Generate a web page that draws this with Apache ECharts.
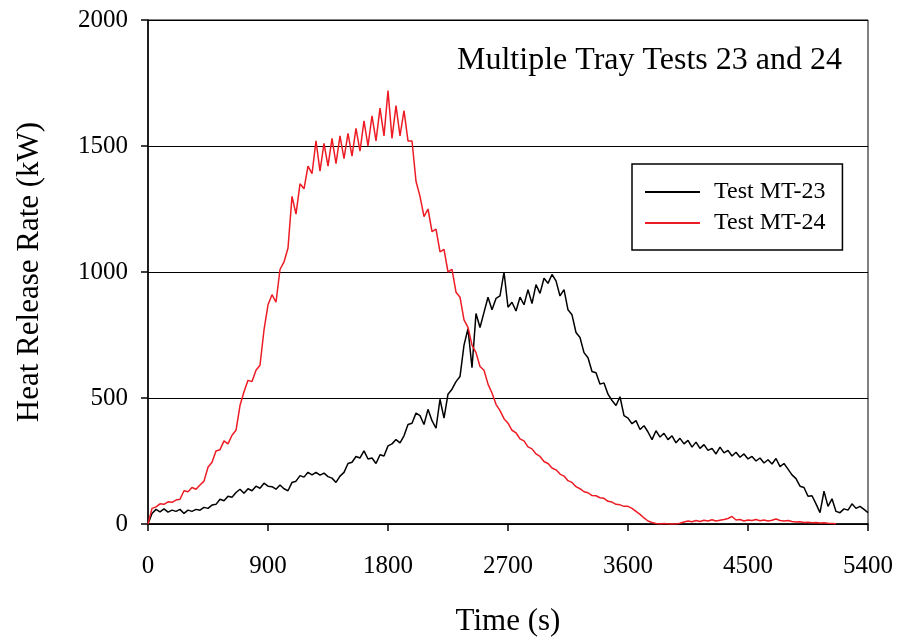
<!DOCTYPE html>
<html>
<head>
<meta charset="utf-8">
<script src="https://cdn.jsdelivr.net/npm/echarts@6/dist/echarts.min.js"></script>
<style>
html,body{margin:0;padding:0;background:#fff;}
#chart{width:904px;height:638px;}
</style>
</head>
<body>
<div id="chart"></div>
<script>
const TIME_STEP = 30;

// Test MT-23 heat release rate (kW), every 30 s from 0 to 5400 s
const mt23 = [
0,42,58,48,60,47,55,50,58,42,55,50,58,55,66,62,75,78,98,92,
110,106,125,138,122,140,132,150,142,162,150,148,138,155,140,132,165,170,192,186,
205,195,205,194,202,188,182,165,190,205,240,245,268,262,290,258,262,240,275,270,
310,318,335,322,350,395,400,440,430,395,455,410,380,495,420,515,535,565,585,710,
775,620,835,780,840,900,850,895,905,1000,860,880,845,900,870,930,875,950,915,975,
955,990,965,905,930,850,830,760,740,680,660,605,600,555,560,515,490,470,505,430,
420,398,410,375,390,365,335,370,345,360,335,350,322,340,318,332,305,325,300,315,
292,300,278,305,282,292,270,285,265,278,258,268,250,262,242,255,238,260,228,240,
218,195,180,150,145,110,112,80,45,130,70,100,50,45,60,55,80,62,70,58,
45
];

// Test MT-24 heat release rate (kW), every 30 s from 0 to 5160 s
const mt24 = [
0,62,68,80,78,88,86,95,98,132,128,145,138,155,170,225,245,290,295,330,
318,352,372,470,525,570,565,610,630,770,870,910,880,1010,1040,1095,1300,1230,1350,1330,
1420,1390,1520,1400,1510,1420,1530,1430,1540,1450,1550,1460,1570,1480,1600,1500,1620,1520,1650,1540,
1720,1530,1660,1540,1640,1520,1520,1360,1300,1220,1250,1160,1170,1080,1090,1000,1010,920,900,810,
780,710,680,625,610,555,520,475,450,418,400,372,362,338,330,306,298,278,268,248,
240,222,215,198,190,172,165,148,140,128,124,113,112,104,102,90,87,78,76,70,
70,62,50,38,24,12,6,2,0,2,0,1,0,3,8,12,9,14,10,15,
12,17,12,15,18,22,30,16,18,12,16,14,18,13,16,12,15,20,14,12,
14,10,8,9,6,7,5,6,4,5,3,2,1
];

const xTicks = {min: 0, max: 5400, interval: 900};
const yTicks = {min: 0, max: 2000, interval: 500};
const seriesNames = ['Test MT-23', 'Test MT-24'];
const titleText = 'Multiple Tray Tests 23 and 24';

function toPairs(arr){ return arr.map((v,i)=>[i*TIME_STEP, v]); }

const FONT = "'Liberation Serif', 'Times New Roman', serif";
const chart = echarts.init(document.getElementById('chart'), null, {renderer:'canvas'});
chart.setOption({
  animation: false,
  backgroundColor: '#fff',
  title: {
    text: titleText, left: 457, top: 45, padding: 0,
    textStyle: {fontFamily: FONT, fontSize: 32, fontWeight: 'normal', color: '#000'}
  },
  legend: {
    orient: 'vertical', left: 632, top: 164,
    padding: [16, 17, 15, 13],
    itemWidth: 55, itemHeight: 2, itemGap: 7, icon: 'rect',
    borderColor: '#000', borderWidth: 1.5,
    backgroundColor: '#fff',
    textStyle: {fontFamily: FONT, fontSize: 24, color: '#000', padding: [0,0,0,9], lineHeight: 24},
    data: seriesNames
  },
  grid: {left: 148, right: 36, top: 20, bottom: 114, show: true, borderColor: '#000', borderWidth: 1,
         containLabel: false, outerBoundsMode: 'none'},
  xAxis: {
    type: 'value', min: xTicks.min, max: xTicks.max, interval: xTicks.interval,
    name: 'Time (s)', nameLocation: 'middle', nameGap: 82,
    nameTextStyle: {fontFamily: FONT, fontSize: 31, color: '#000'},
    axisLine: {lineStyle: {color: '#000', width: 1.5}},
    axisTick: {show: true, inside: false, length: 7, lineStyle: {color: '#000', width: 1.5}},
    axisLabel: {fontFamily: FONT, fontSize: 25, color: '#000', margin: 30, formatter: v => String(v)},
    splitLine: {show: false}
  },
  yAxis: {
    type: 'value', min: yTicks.min, max: yTicks.max, interval: yTicks.interval,
    name: 'Heat Release Rate (kW)', nameLocation: 'middle', nameGap: 103,
    nameTextStyle: {fontFamily: FONT, fontSize: 31, color: '#000'},
    axisLine: {show: true, lineStyle: {color: '#000', width: 1.5}},
    axisTick: {show: true, inside: false, length: 7, lineStyle: {color: '#000', width: 1.5}},
    axisLabel: {fontFamily: FONT, fontSize: 25, color: '#000', margin: 20, formatter: v => String(v)},
    splitLine: {show: true, lineStyle: {color: '#000', width: 1}}
  },
  series: [
    {name: seriesNames[0], type: 'line', data: toPairs(mt23), symbol: 'none', showSymbol: false,
     lineStyle: {color: '#000', width: 1.5}, itemStyle: {color: '#000'}},
    {name: seriesNames[1], type: 'line', data: toPairs(mt24), symbol: 'none', showSymbol: false,
     lineStyle: {color: '#ED1C24', width: 1.5}, itemStyle: {color: '#ED1C24'}}
  ]
});
</script>
</body>
</html>
